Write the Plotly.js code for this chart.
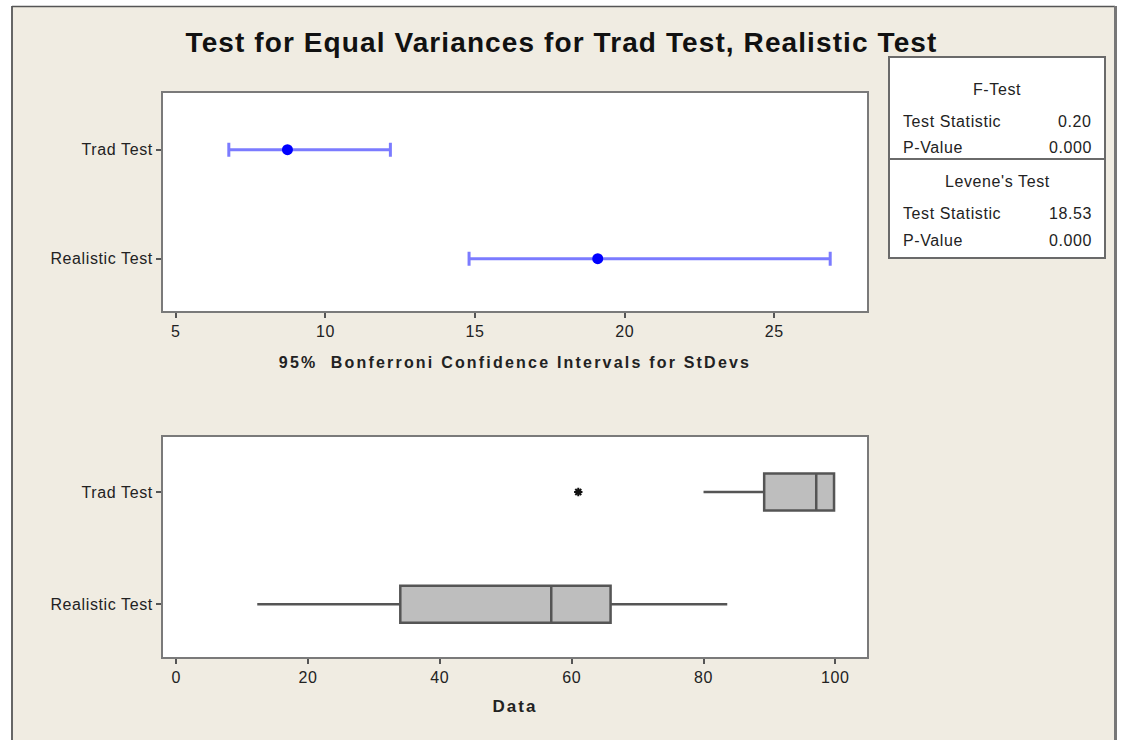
<!DOCTYPE html>
<html>
<head>
<meta charset="utf-8">
<script src="https://cdn.plot.ly/plotly-3.0.1.min.js"></script>
<style>html,body{margin:0;padding:0;background:#fff;}#chart{width:1123px;height:740px;}</style>
</head>
<body>
<div id="chart"></div>
<script>
// ---- data ----
var categories = ['Realistic Test', 'Trad Test'];
var groups = ['Trad Test', 'Realistic Test'];
var sdEstimate = [8.73, 19.1];
var sdLower = [6.77, 14.8];
var sdUpper = [12.17, 26.87];
var boxQ1 = [89.2, 34.0];
var boxMedian = [97.1, 56.9];
var boxQ3 = [99.8, 65.9];
var boxLow = [80.0, 12.3];
var boxHigh = [99.8, 83.6];
var outlierX = [61.0];
var outlierY = ['Trad Test'];
var sdTicks = [5, 10, 15, 20, 25];
var dataTicks = [0, 20, 40, 60, 80, 100];
var fTest = {stat: '0.20', p: '0.000'};
var levTest = {stat: '18.53', p: '0.000'};

var W = 1123, H = 740;
function px(x){return x / W;}
function py(y){return 1 - y / H;}

var font = 'Liberation Sans, Arial, sans-serif';
function sp(text, ls){return '<span style="letter-spacing:' + ls + 'px">' + text + '</span>';}

var traces = [
  {
    type: 'scatter', mode: 'markers', x: sdEstimate, y: groups,
    xaxis: 'x', yaxis: 'y',
    marker: {color: '#0000ff', size: 11},
    error_x: {
      type: 'data', symmetric: false,
      array: sdUpper.map(function(u, i){return u - sdEstimate[i];}),
      arrayminus: sdLower.map(function(l, i){return sdEstimate[i] - l;}),
      color: 'rgba(90,90,255,0.8)', thickness: 3, width: 7
    },
    hoverinfo: 'x+y', showlegend: false
  },
  {
    type: 'box', orientation: 'h', y: groups,
    q1: boxQ1, median: boxMedian, q3: boxQ3,
    lowerfence: boxLow, upperfence: boxHigh,
    xaxis: 'x2', yaxis: 'y2',
    width: 0.33, whiskerwidth: 0,
    fillcolor: '#bebebe', line: {color: '#555555', width: 2.5},
    boxpoints: false, showlegend: false
  },
  {
    type: 'scatter', mode: 'markers', x: outlierX, y: outlierY,
    xaxis: 'x2', yaxis: 'y2',
    marker: {symbol: 'asterisk-open', size: 7, color: '#111', line: {color: '#111', width: 2}},
    showlegend: false
  }
];

var axisCommon = {
  showline: true, mirror: true, linecolor: '#7a7a7a', linewidth: 2,
  showgrid: false, zeroline: false, ticks: 'outside', ticklen: 5, tickwidth: 2, tickcolor: '#555',
  tickfont: {family: font, size: 16, color: '#222'}, automargin: false, fixedrange: true
};

function merge(a, b){var o = {}; for (var k in a) o[k] = a[k]; for (var k2 in b) o[k2] = b[k2]; return o;}

var shapes = [
  {type: 'rect', xref: 'paper', yref: 'paper', x0: px(13), x1: px(1115), y0: py(740), y1: py(7), fillcolor: '#f0ece2', line: {width: 0}, layer: 'below'},
  {type: 'line', xref: 'paper', yref: 'paper', x0: px(12), x1: px(12), y0: py(740), y1: py(6), line: {color: '#666', width: 2}},
  {type: 'line', xref: 'paper', yref: 'paper', x0: px(12), x1: px(1115), y0: py(6.5), y1: py(6.5), line: {color: '#555', width: 1.5}},
  {type: 'line', xref: 'paper', yref: 'paper', x0: px(1115.5), x1: px(1115.5), y0: py(740), y1: py(6), line: {color: '#777', width: 3}},
  {type: 'rect', xref: 'paper', yref: 'paper', x0: px(163), x1: px(867), y0: py(311), y1: py(93), fillcolor: '#fff', line: {width: 0}, layer: 'below'},
  {type: 'rect', xref: 'paper', yref: 'paper', x0: px(163), x1: px(867), y0: py(657), y1: py(437), fillcolor: '#fff', line: {width: 0}, layer: 'below'},
  {type: 'rect', xref: 'paper', yref: 'paper', x0: px(889), x1: px(1105), y0: py(258), y1: py(57), fillcolor: '#fff', line: {color: '#6a6a6a', width: 2}},
  {type: 'line', xref: 'paper', yref: 'paper', x0: px(889), x1: px(1105), y0: py(159), y1: py(159), line: {color: '#6a6a6a', width: 2}}
];

var tf = {family: font, size: 16, color: '#222'};
function ann(x, y, text, anchor){
  return {xref: 'paper', yref: 'paper', x: px(x), y: py(y), text: sp(text, 0.6), showarrow: false,
          xanchor: anchor, yanchor: 'middle', font: tf};
}
var annotations = [
  ann(997, 89, 'F-Test', 'center'),
  ann(901, 121, 'Test Statistic', 'left'),
  ann(1094, 121, fTest.stat, 'right'),
  ann(901, 148, 'P-Value', 'left'),
  ann(1094, 148, fTest.p, 'right'),
  ann(997, 181, "Levene's Test", 'center'),
  ann(901, 214, 'Test Statistic', 'left'),
  ann(1094, 214, levTest.stat, 'right'),
  ann(901, 240, 'P-Value', 'left'),
  ann(1094, 240, levTest.p, 'right')
];

var layout = {
  width: W, height: H,
  margin: {l: 0, r: 0, t: 0, b: 0},
  paper_bgcolor: '#ffffff', plot_bgcolor: 'rgba(0,0,0,0)',
  showlegend: false,
  title: {text: sp('Test for Equal Variances for Trad Test, Realistic Test', 1.1),
          font: {family: font, size: 28, color: '#111', weight: 'bold'},
          x: 0.5, xanchor: 'center', xref: 'paper', y: py(42), yanchor: 'middle', yref: 'container'},
  xaxis: merge(axisCommon, {
    domain: [px(163), px(867)], range: [4.57, 28.1], anchor: 'y',
    tickvals: sdTicks, ticktext: sdTicks.map(function(v){return sp(String(v), 0.6);}),
    title: {text: sp('95%  Bonferroni Confidence Intervals for StDevs', 2.2), standoff: 18,
            font: {family: font, size: 16, color: '#222', weight: 'bold'}}
  }),
  yaxis: merge(axisCommon, {
    domain: [py(311), py(93)], type: 'category', categoryorder: 'array', categoryarray: categories,
    tickvals: categories, ticktext: categories.map(function(c){return sp(c, 0.6);}),
    range: [-0.48, 1.52], anchor: 'x'
  }),
  xaxis2: merge(axisCommon, {
    domain: [px(163), px(867)], range: [-2, 104.8], anchor: 'y2',
    tickvals: dataTicks, ticktext: dataTicks.map(function(v){return sp(String(v), 0.6);}),
    title: {text: sp('Data', 2.0), standoff: 15,
            font: {family: font, size: 17, color: '#222', weight: 'bold'}}
  }),
  yaxis2: merge(axisCommon, {
    domain: [py(657), py(437)], type: 'category', categoryorder: 'array', categoryarray: categories,
    tickvals: categories, ticktext: categories.map(function(c){return sp(c, 0.6);}),
    range: [-0.47, 1.49], anchor: 'x2'
  }),
  shapes: shapes,
  annotations: annotations
};

Plotly.newPlot('chart', traces, layout, {displayModeBar: false, staticPlot: true});
</script>
</body>
</html>
